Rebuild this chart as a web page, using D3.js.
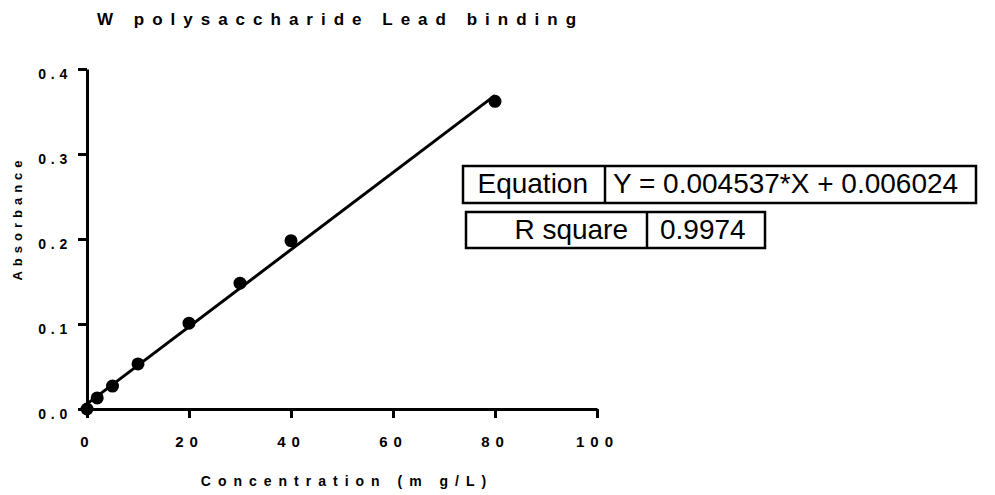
<!DOCTYPE html>
<html>
<head>
<meta charset="utf-8">
<script src="https://cdn.jsdelivr.net/npm/d3@7"></script>
<style>
  body { margin: 0; background: #fff; }
  svg text { font-family: "Liberation Sans", Arial, sans-serif; fill: #000; }
</style>
</head>
<body>
<div id="chart"></div>
<script>
// data
const concentration = [0, 2, 5, 10, 20, 30, 40, 80];
const absorbance = [0.000, 0.013, 0.027, 0.053, 0.101, 0.148, 0.198, 0.362];
const slope = 0.004537;
const intercept = 0.006024;
const xTicks = [0, 20, 40, 60, 80, 100];
const yTicks = [0.0, 0.1, 0.2, 0.3, 0.4];
const tableRows = [
    ["Equation", "Y = 0.004537*X + 0.006024"],
    ["R square", "0.9974"]
];

const width = 995, height = 495;
const svg = d3.select("#chart").append("svg")
    .attr("width", width)
    .attr("height", height);

const x = d3.scaleLinear().domain([0, 100]).range([87, 597]);
const y = d3.scaleLinear().domain([0, 0.4]).range([409, 69]);

// title
svg.append("text")
    .attr("x", 97).attr("y", 25)
    .style("font-size", "17px").style("font-weight", "bold")
    .style("letter-spacing", "8px")
    .text("W polysaccharide Lead binding");

// axes
const xAxis = svg.append("g")
    .attr("transform", "translate(0,409)")
    .call(d3.axisBottom(x).tickValues(xTicks).tickSize(9).tickSizeOuter(0).tickFormat(d3.format("d")));
const yAxis = svg.append("g")
    .attr("transform", "translate(87,0)")
    .call(d3.axisLeft(y).tickValues(yTicks).tickSize(9).tickSizeOuter(0).tickFormat(d3.format(".1f")));

[xAxis, yAxis].forEach(function(ax) {
    ax.select(".domain").attr("stroke", "#000").attr("stroke-width", 3);
    ax.selectAll(".tick line").attr("stroke", "#000").attr("stroke-width", 3);
    ax.selectAll(".tick text")
        .style("font-family", "'Liberation Sans', Arial, sans-serif")
        .style("font-weight", "bold");
});
xAxis.selectAll(".tick text")
    .style("font-size", "15px").style("letter-spacing", "6px")
    .attr("dy", "0").attr("y", 38);
yAxis.selectAll(".tick text")
    .style("font-size", "14px").style("letter-spacing", "4.8px")
    .attr("x", -15).attr("dy", "0").attr("y", 9);

// axis titles
svg.append("text")
    .attr("x", 347).attr("y", 486)
    .attr("text-anchor", "middle")
    .style("font-size", "14px").style("font-weight", "bold")
    .style("letter-spacing", "7px")
    .text("Concentration (m g/L)");

svg.append("text")
    .attr("transform", "translate(22,218) rotate(-90)")
    .attr("text-anchor", "middle")
    .style("font-size", "13px").style("font-weight", "bold")
    .style("letter-spacing", "5px")
    .text("Absorbance");

// regression line
const fitX = [0, 80];
svg.append("line")
    .attr("x1", x(fitX[0])).attr("y1", y(slope * fitX[0] + intercept))
    .attr("x2", x(fitX[1])).attr("y2", y(slope * fitX[1] + intercept))
    .attr("stroke", "#000").attr("stroke-width", 3);

// points
svg.selectAll("circle.pt")
    .data(concentration)
    .enter()
    .append("circle")
    .attr("class", "pt")
    .attr("cx", function(d) { return x(d); })
    .attr("cy", function(d, i) { return y(absorbance[i]); })
    .attr("r", 6.5)
    .attr("fill", "#000");

// results table
const boxes = [
    {x: 463, y: 166, h: 37, split: 605, right: 976, padL: 17, padR: 8},
    {x: 466, y: 212, h: 36, split: 647, right: 765, padL: 19, padR: 13}
];
boxes.forEach(function(b, i) {
    const g = svg.append("g");
    g.append("rect")
        .attr("x", b.x).attr("y", b.y)
        .attr("width", b.right - b.x).attr("height", b.h)
        .attr("fill", "none").attr("stroke", "#000").attr("stroke-width", 2.5);
    g.append("line")
        .attr("x1", b.split).attr("x2", b.split)
        .attr("y1", b.y).attr("y2", b.y + b.h)
        .attr("stroke", "#000").attr("stroke-width", 2.5);
    g.append("text")
        .attr("x", b.split - b.padL).attr("y", b.y + 27)
        .attr("text-anchor", "end")
        .style("font-size", "28px")
        .text(tableRows[i][0]);
    g.append("text")
        .attr("x", b.split + b.padR).attr("y", b.y + 27)
        .style("font-size", "28px")
        .text(tableRows[i][1]);
});
</script>
</body>
</html>
